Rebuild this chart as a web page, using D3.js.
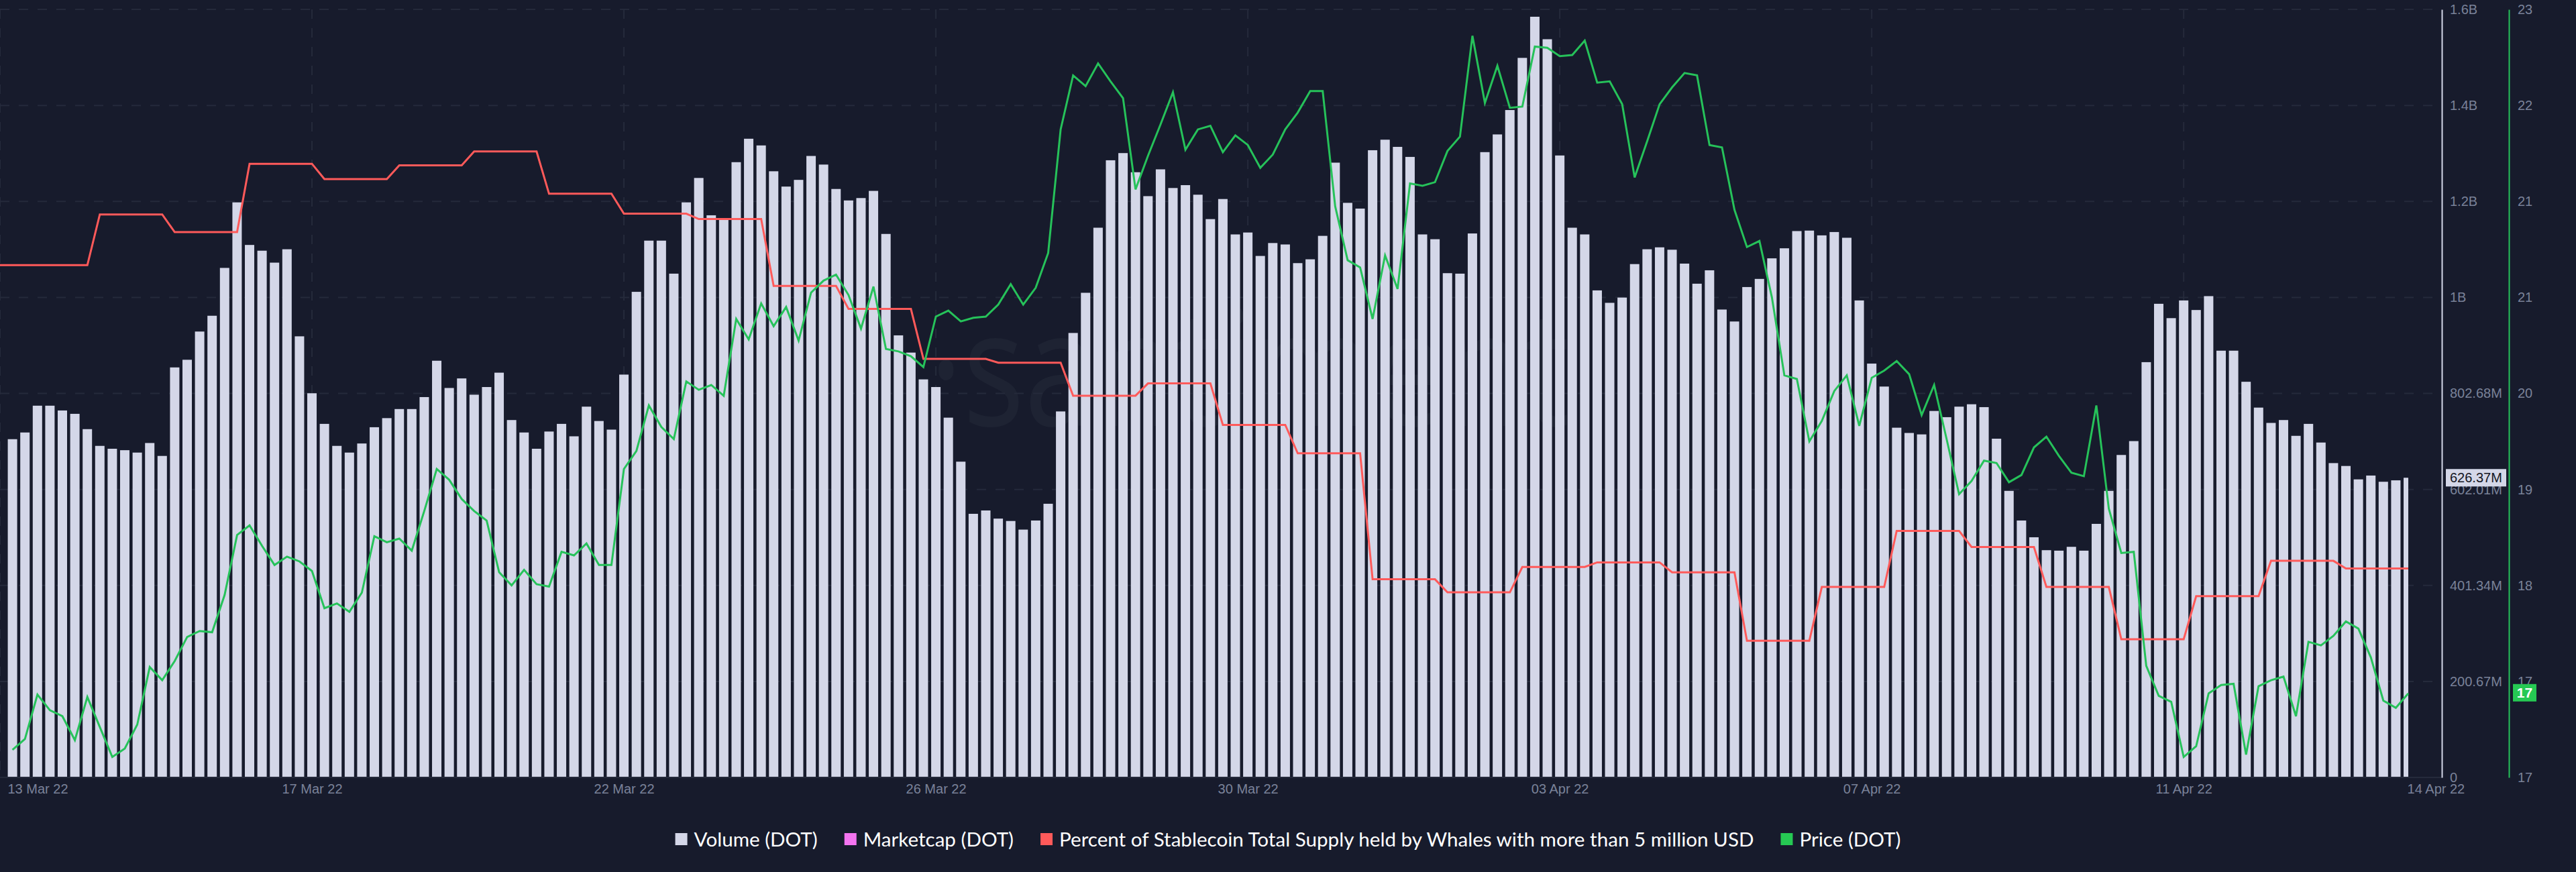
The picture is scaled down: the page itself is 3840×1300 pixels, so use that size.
<!DOCTYPE html>
<html>
<head>
<meta charset="utf-8">
<title>DOT volume, price and stablecoin whale supply</title>
<script src="https://cdn.jsdelivr.net/npm/d3@7"></script>
<style>
    html, body { margin: 0; padding: 0; background: #171b2c; }
    svg { display: block; }
    text { font-family: "Liberation Sans", Arial, sans-serif; }
</style>
</head>
<body>
<div id="chart"></div>
<script>
// 4-hourly volume in millions
const volume = [
    707, 721, 777, 777, 767, 760, 728, 693, 687, 684, 679, 699, 672, 857, 873, 932, 965, 1065, 1202, 1113,
    1101, 1076, 1104, 922, 803, 739, 693, 679, 698, 732, 751, 770, 770, 795, 871, 814, 834, 800, 816, 846,
    747, 721, 687, 723, 739, 713, 775, 745, 727, 842, 1015, 1122, 1122, 1053, 1202, 1253, 1175, 1166, 1286, 1335,
    1321, 1267, 1235, 1249, 1299, 1281, 1230, 1206, 1211, 1226, 1136, 924, 888, 832, 816, 752, 660, 551, 558, 541,
    536, 518, 537, 572, 765, 929, 1013, 1149, 1290, 1305, 1265, 1215, 1271, 1232, 1238, 1218, 1167, 1209, 1135, 1139,
    1090, 1117, 1114, 1075, 1083, 1132, 1285, 1201, 1189, 1311, 1333, 1318, 1297, 1135, 1125, 1054, 1053, 1137, 1307, 1344,
    1395, 1504, 1590, 1543, 1300, 1149, 1135, 1018, 992, 1003, 1073, 1104, 1108, 1103, 1074, 1032, 1060, 978, 953, 1025,
    1042, 1085, 1106, 1142, 1143, 1133, 1140, 1128, 997, 865, 817, 731, 720, 717, 766, 753, 775, 780, 774, 708,
    599, 537, 502, 475, 474, 482, 474, 530, 599, 674, 703, 868, 990, 960, 997, 977, 1006, 892, 892, 827,
    773, 741, 747, 714, 739, 700, 657, 651, 623, 631, 618, 621, 626.37
];

// 4-hourly price, same length as volume
const price = [
    16.83, 16.92, 17.29, 17.16, 17.11, 16.91, 17.27, 17.02, 16.77, 16.84, 17.04, 17.52, 17.41, 17.57, 17.77, 17.82, 17.81, 18.12, 18.62, 18.70,
    18.53, 18.37, 18.44, 18.40, 18.32, 18.01, 18.05, 17.98, 18.14, 18.61, 18.56, 18.59, 18.49, 18.82, 19.17, 19.08, 18.92, 18.82, 18.74, 18.31,
    18.20, 18.33, 18.21, 18.19, 18.48, 18.45, 18.55, 18.37, 18.37, 19.17, 19.32, 19.70, 19.52, 19.42, 19.90, 19.83, 19.87, 19.78, 20.42, 20.25,
    20.55, 20.36, 20.52, 20.24, 20.64, 20.74, 20.79, 20.62, 20.34, 20.69, 20.17, 20.15, 20.11, 20.02, 20.44, 20.49, 20.40, 20.43, 20.44, 20.54,
    20.71, 20.54, 20.68, 20.97, 22.00, 22.45, 22.36, 22.55, 22.40, 22.26, 21.50, 21.78, 22.04, 22.31, 21.83, 22.00, 22.03, 21.81, 21.95, 21.87,
    21.68, 21.79, 22.00, 22.14, 22.32, 22.32, 21.36, 20.91, 20.85, 20.42, 20.95, 20.67, 21.55, 21.53, 21.56, 21.82, 21.94, 22.78, 22.22, 22.53,
    22.18, 22.19, 22.69, 22.68, 22.61, 22.62, 22.74, 22.39, 22.40, 22.21, 21.60, 21.90, 22.21, 22.35, 22.47, 22.45, 21.87, 21.85, 21.33, 21.02,
    21.07, 20.60, 19.95, 19.92, 19.40, 19.57, 19.82, 19.95, 19.53, 19.93, 19.99, 20.07, 19.96, 19.62, 19.87, 19.42, 18.96, 19.07, 19.24, 19.22,
    19.06, 19.12, 19.35, 19.44, 19.28, 19.14, 19.11, 19.70, 18.84, 18.47, 18.48, 17.53, 17.28, 17.23, 16.77, 16.86, 17.30, 17.37, 17.38, 16.79,
    17.36, 17.41, 17.44, 17.11, 17.73, 17.70, 17.78, 17.90, 17.84, 17.60, 17.24, 17.18, 17.30
];

// Whale supply changes once a day. It has no axis in the picture, so this is
// its position on a hidden 0-100 scale.
const whaleDaily = [
    66.7, 73.3, 71.0, 79.9, 77.9, 79.7, 81.5, 76.0, 73.4, 72.7, 64.0, 61.0, 54.5, 54.0, 49.7, 51.3,
    45.9, 42.2, 25.8, 24.1, 27.4, 28.0, 26.7, 17.8, 24.8, 32.1, 30.0, 24.8, 18.0, 23.6, 28.2, 27.2
];

const volumeTicks = [0, 200.67, 401.34, 602.01, 802.68, 1003.35, 1204.02, 1404.69, 1605.36];
const volumeLabels = ["0", "200.67M", "401.34M", "602.01M", "802.68M", "1B", "1.2B", "1.4B", "1.6B"];
const priceTicks = [16.6, 17.4, 18.2, 19, 19.8, 20.6, 21.4, 22.2, 23];
const priceLabels = ["17", "17", "18", "19", "20", "21", "21", "22", "23"];

const dateTicks = [-1, 24, 49, 74, 99, 124, 149, 174, 194.2];
const dateLabels = ["13 Mar 22", "17 Mar 22", "22 Mar 22", "26 Mar 22", "30 Mar 22", "03 Apr 22", "07 Apr 22", "11 Apr 22", "14 Apr 22"];

const legendNames = ["Volume (DOT)", "Marketcap (DOT)", "Percent of Stablecoin Total Supply held by Whales with more than 5 million USD", "Price (DOT)"];
const legendColors = ["#d4d7e8", "#f374f0", "#ff5a5a", "#26c953"];

const lastVolumeLabel = "626.37M";
const lastPriceLabel = "17";

const bg = "#171b2c", gridColor = "#252a3b", tickColor = "#7a8299";
const barColor = "#d4d7e8", red = "#ff5a5a", green = "#26c25a";

const width = 3840, height = 1300;
const plotTop = 14, plotBottom = 1159;
const seriesEnd = 3590, volAxisX = 3640, priceAxisX = 3740;

const svg = d3.select("#chart").append("svg")
    .attr("width", width)
    .attr("height", height)
    .attr("role", "img")
    .attr("aria-label", "DOT volume bars with price and stablecoin whale supply lines");

svg.append("rect").attr("width", width).attr("height", height).attr("fill", bg);

// index -1 sits on the left edge, the last bar gets cut in half there
const x = d3.scaleLinear().domain([-1, volume.length - 1]).range([0, seriesEnd]);
const yVolume = d3.scaleLinear().domain([0, 1605.36]).range([plotBottom, plotTop]);
const yPrice = d3.scaleLinear().domain([16.6, 23]).range([plotBottom, plotTop]);
const yWhale = d3.scaleLinear().domain([0, 100]).range([plotBottom, plotTop]);

svg.append("defs").append("clipPath").attr("id", "seriesClip")
    .append("rect")
    .attr("x", 0)
    .attr("y", plotTop)
    .attr("width", seriesEnd)
    .attr("height", plotBottom - plotTop);

// Watermark, squeezed a bit to get the narrow letters of the original
svg.append("text")
    .attr("transform", "translate(1385,635) scale(0.8,1)")
    .attr("fill", "#1e2333")
    .attr("font-size", 240)
    .style("font-family", "'Open Sans', sans-serif")
    .text("\u00b7santiment");

// Grid
svg.append("g").selectAll("line")
    .data(volumeTicks.slice(1))
    .enter()
    .append("line")
    .attr("x1", 0)
    .attr("x2", 3626)
    .attr("y1", d => yVolume(d))
    .attr("y2", d => yVolume(d))
    .attr("stroke", gridColor)
    .attr("stroke-width", 2)
    .attr("stroke-dasharray", "14 14");

svg.append("g").selectAll("line")
    .data(dateTicks.slice(0, -1))
    .enter()
    .append("line")
    .attr("x1", d => x(d))
    .attr("x2", d => x(d))
    .attr("y1", plotTop)
    .attr("y2", plotBottom)
    .attr("stroke", gridColor)
    .attr("stroke-width", 2)
    .attr("stroke-dasharray", "14 14");

// Bars
svg.append("g")
    .attr("clip-path", "url(#seriesClip)")
    .selectAll("rect")
    .data(volume)
    .enter()
    .append("rect")
    .attr("x", (d, i) => x(i) - 7)
    .attr("y", d => yVolume(d))
    .attr("width", 14)
    .attr("height", d => plotBottom - yVolume(d))
    .attr("fill", barColor);

// Whale line, flat for each day
const whalePoints = [];
whaleDaily.forEach((v, k) => {
    whalePoints.push({ i: k === 0 ? -1 : 6 * k + 1, v });
    whalePoints.push({ i: 6 * k + 6, v });
});

svg.append("path")
    .datum(whalePoints)
    .attr("fill", "none")
    .attr("stroke", red)
    .attr("stroke-width", 3)
    .attr("d", d3.line().x(d => x(d.i)).y(d => yWhale(d.v)));

svg.append("path")
    .datum(price)
    .attr("fill", "none")
    .attr("stroke", green)
    .attr("stroke-width", 3)
    .attr("d", d3.line().x((d, i) => x(i)).y(d => yPrice(d)));

// Axes
const xAxis = svg.append("g")
    .attr("transform", `translate(0,${plotBottom})`)
    .call(d3.axisBottom(x).tickValues(dateTicks).tickFormat((d, i) => dateLabels[i]).tickSize(0).tickPadding(10));
xAxis.select(".domain").attr("stroke", gridColor).attr("stroke-width", 2).attr("d", `M0,0H${volAxisX}`);
xAxis.selectAll("text")
    .attr("fill", tickColor)
    .attr("font-size", 20)
    .attr("text-anchor", (d, i) => i === 0 ? "start" : "middle")
    .attr("dx", (d, i) => i === 0 ? 11 : 0);

const volumeAxis = svg.append("g")
    .attr("transform", `translate(${volAxisX},0)`)
    .call(d3.axisRight(yVolume).tickValues(volumeTicks).tickFormat((d, i) => volumeLabels[i]).tickSize(0).tickPadding(12));
volumeAxis.select(".domain").attr("stroke", barColor).attr("stroke-width", 2);
volumeAxis.selectAll("text").attr("fill", tickColor).attr("font-size", 20);

const priceAxis = svg.append("g")
    .attr("transform", `translate(${priceAxisX},0)`)
    .call(d3.axisRight(yPrice).tickValues(priceTicks).tickFormat((d, i) => priceLabels[i]).tickSize(0).tickPadding(13));
priceAxis.select(".domain").attr("stroke", green).attr("stroke-width", 2);
priceAxis.selectAll("text").attr("fill", tickColor).attr("font-size", 20);

// Last value tags
const volumeY = yVolume(volume[volume.length - 1]);
svg.append("rect")
    .attr("x", 3646).attr("y", volumeY - 13)
    .attr("width", 90).attr("height", 26)
    .attr("fill", barColor);
svg.append("text")
    .attr("x", 3652).attr("y", volumeY)
    .attr("dy", "0.36em")
    .attr("fill", "#14161f")
    .attr("font-size", 20)
    .text(lastVolumeLabel);

const priceY = yPrice(price[price.length - 1]);
svg.append("rect")
    .attr("x", 3746).attr("y", priceY - 14)
    .attr("width", 35).attr("height", 26)
    .attr("fill", "#26c953");
svg.append("text")
    .attr("x", 3763.5).attr("y", priceY - 1)
    .attr("dy", "0.36em")
    .attr("text-anchor", "middle")
    .attr("fill", "#ffffff")
    .attr("font-size", 21)
    .attr("font-weight", "bold")
    .text(lastPriceLabel);

// Legend, measured and centred
const legend = svg.append("g");
let legendX = 0;
legendNames.forEach((name, i) => {
    const item = legend.append("g").attr("transform", `translate(${legendX},0)`);
    item.append("rect").attr("y", -9).attr("width", 18).attr("height", 18).attr("fill", legendColors[i]);
    const label = item.append("text")
        .attr("x", 28)
        .attr("dy", "0.36em")
        .attr("fill", "#ffffff")
        .attr("font-size", 29.6)
        .style("font-family", "Lato, sans-serif")
        .text(name);
    legendX += 28 + label.node().getComputedTextLength() + 40;
});
legend.attr("transform", `translate(${(width - (legendX - 40)) / 2},1251)`);
</script>
</body>
</html>
